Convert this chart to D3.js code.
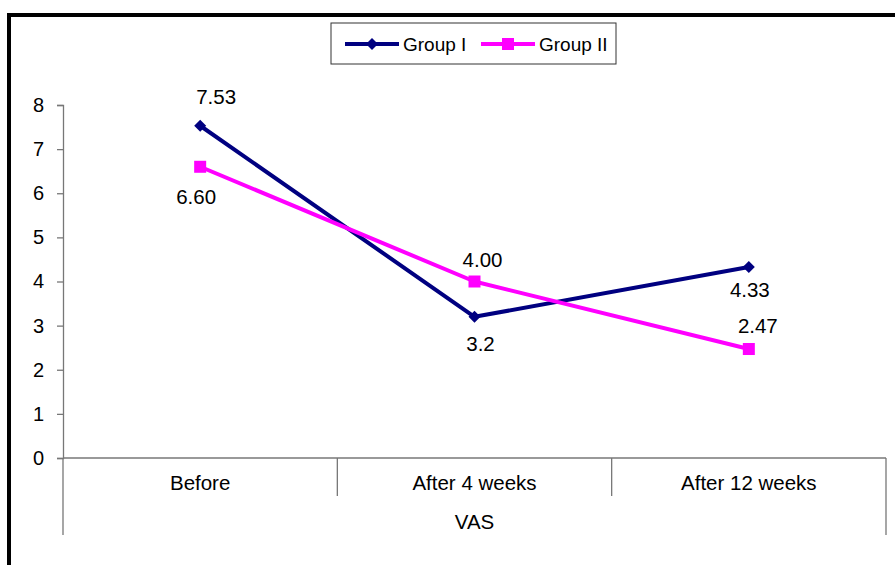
<!DOCTYPE html>
<html>
<head>
<meta charset="utf-8">
<script src="https://cdn.jsdelivr.net/npm/d3@7"></script>
<style>
  html, body { margin: 0; padding: 0; background: #fff; }
  svg { display: block; font-family: "Liberation Sans", Arial, sans-serif; }
</style>
</head>
<body>
<svg id="chart" width="895" height="565"></svg>
<script>
// VAS scores per visit
const categories = ["Before", "After 4 weeks", "After 12 weeks"];
const groupI = [7.53, 3.2, 4.33];
const groupII = [6.60, 4.00, 2.47];
const groupILabels = ["7.53", "3.2", "4.33"];
const groupIILabels = ["6.60", "4.00", "2.47"];
const yTicks = [0, 1, 2, 3, 4, 5, 6, 7, 8];
const axisTitle = "VAS";

const svg = d3.select("#chart");
const FS = 20.5;

// outer frame (open to the right and bottom)
svg.append("rect")
  .attr("x", 9).attr("y", 15)
  .attr("width", 920).attr("height", 620)
  .attr("fill", "none").attr("stroke", "#000").attr("stroke-width", 4);

const plot = { left: 63, right: 886, top: 105, bottom: 458 };

const x = d3.scaleBand().domain(categories).range([plot.left, plot.right]).padding(0);
const y = d3.scaleLinear().domain([0, 8]).range([plot.bottom, plot.top]);
const cx = c => x(c) + x.bandwidth() / 2;

const axisColor = "#777";

// y axis
const yAxis = svg.append("g")
  .attr("transform", `translate(${plot.left},0)`)
  .call(d3.axisLeft(y).tickValues(yTicks).tickSize(6).tickPadding(13).tickFormat(d3.format("d")));
yAxis.select(".domain").attr("stroke", axisColor).attr("stroke-width", 1.3);
yAxis.selectAll(".tick line").attr("stroke", axisColor).attr("stroke-width", 1.3);
yAxis.selectAll(".tick text").attr("font-size", 20).attr("fill", "#000")
  .attr("font-family", "Liberation Sans, Arial, sans-serif");

// x axis baseline
svg.append("line")
  .attr("x1", plot.left).attr("x2", plot.right)
  .attr("y1", y(0)).attr("y2", y(0))
  .attr("stroke", axisColor).attr("stroke-width", 1.3);

// category separators
const edges = categories.map(c => x(c)).concat([plot.right]);
svg.selectAll("line.sep").data(edges).enter().append("line")
  .attr("class", "sep")
  .attr("x1", d => d).attr("x2", d => d)
  .attr("y1", y(0))
  .attr("y2", (d, i) => (i === 0 || i === edges.length - 1) ? 535 : 496)
  .attr("stroke", axisColor).attr("stroke-width", 1.3);

// category labels
svg.selectAll("text.cat").data(categories).enter().append("text")
  .attr("class", "cat")
  .attr("x", d => cx(d)).attr("y", 490)
  .attr("text-anchor", "middle").attr("font-size", FS).attr("fill", "#000")
  .text(d => d);

svg.append("text")
  .attr("x", (plot.left + plot.right) / 2).attr("y", 529)
  .attr("text-anchor", "middle").attr("font-size", FS).attr("fill", "#000")
  .text(axisTitle);

// series
const series = [
  { name: "Group I", values: groupI, labels: groupILabels, color: "#000080", marker: "diamond",
    place: [[16, -29], [6, 27], [1, 23]] },
  { name: "Group II", values: groupII, labels: groupIILabels, color: "#FF00FF", marker: "square",
    place: [[-4, 30], [8, -22], [9, -23]] }
];

const line = d3.line().x((d, i) => cx(categories[i])).y(d => y(d));

function drawMarker(g, type, px, py, color) {
  if (type === "diamond") {
    g.append("path")
      .attr("d", `M${px},${py - 6}L${px + 6},${py}L${px},${py + 6}L${px - 6},${py}Z`)
      .attr("fill", color);
  } else {
    g.append("rect")
      .attr("x", px - 6).attr("y", py - 6).attr("width", 12).attr("height", 12)
      .attr("fill", color);
  }
}

series.forEach(s => {
  const g = svg.append("g");
  g.append("path").datum(s.values)
    .attr("d", line).attr("fill", "none")
    .attr("stroke", s.color).attr("stroke-width", 4).attr("stroke-linejoin", "round");
  s.values.forEach((v, i) => drawMarker(g, s.marker, cx(categories[i]), y(v), s.color));
  s.values.forEach((v, i) => {
    g.append("text")
      .attr("x", cx(categories[i]) + s.place[i][0])
      .attr("y", y(v) + s.place[i][1])
      .attr("dy", "0.35em")
      .attr("text-anchor", "middle").attr("font-size", FS).attr("fill", "#000")
      .text(s.labels[i]);
  });
});

// legend
const legend = svg.append("g");
legend.append("rect")
  .attr("x", 331).attr("y", 23).attr("width", 285).attr("height", 41)
  .attr("fill", "#fff").attr("stroke", "#333").attr("stroke-width", 1);
const legendX = [345, 481];
series.forEach((s, i) => {
  const lx = legendX[i], ly = 44;
  legend.append("line")
    .attr("x1", lx).attr("x2", lx + 54).attr("y1", ly).attr("y2", ly)
    .attr("stroke", s.color).attr("stroke-width", 4);
  drawMarker(legend, s.marker, lx + 27, ly, s.color);
  legend.append("text")
    .attr("x", lx + 58).attr("y", ly).attr("dy", "0.35em")
    .attr("font-size", 19).attr("fill", "#000")
    .text(s.name);
});
</script>
</body>
</html>
